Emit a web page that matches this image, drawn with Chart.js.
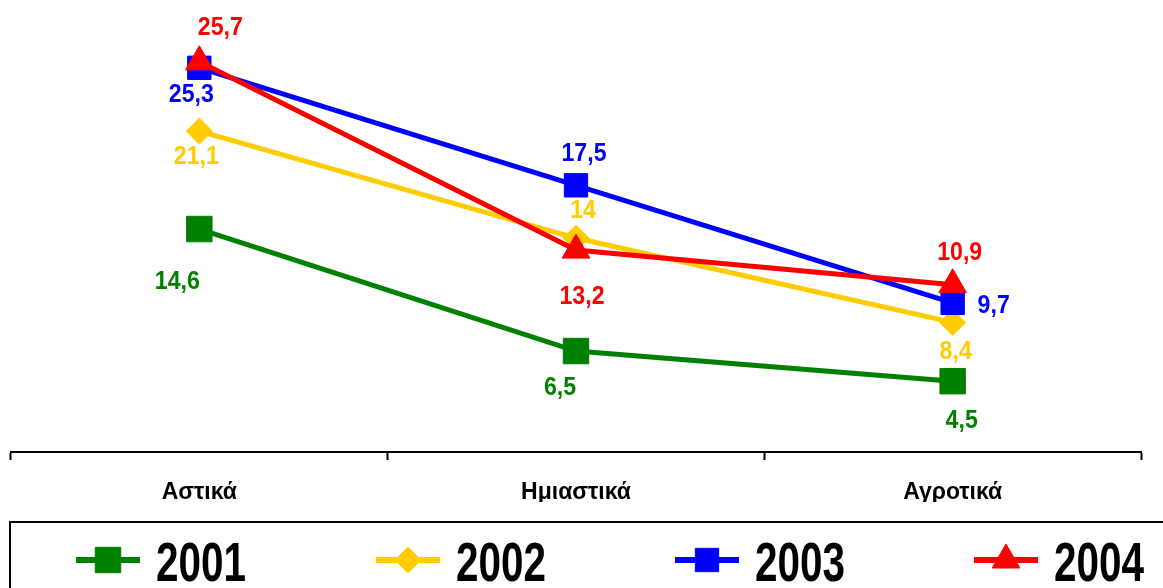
<!DOCTYPE html>
<html><head><meta charset="utf-8">
<script src="https://cdn.jsdelivr.net/npm/chart.js@4.4.1/dist/chart.umd.min.js"></script>
<style>html,body{margin:0;padding:0;background:#fff;overflow:hidden}#wrap{width:1163px;height:588px;position:relative}</style>
</head><body><div id="wrap"><canvas id="c" width="1163" height="588"></canvas></div>
<script>
const categories = ['Αστικά', 'Ημιαστικά', 'Αγροτικά'];
const seriesNames = ['2001', '2002', '2003', '2004'];
const values2001 = [14.6, 6.5, 4.5];
const values2002 = [21.1, 14, 8.4];
const values2003 = [25.3, 17.5, 9.7];
const values2004 = [25.7, 13.2, 10.9];

const seriesValues = [values2001, values2002, values2003, values2004];
const seriesColors = ['#008000', '#FFCC00', '#0000FF', '#FF0000'];
const seriesStyles = ['rect', 'rectRot', 'rect', 'triangle'];
const seriesRadius = [18, 13, 16.5, 16];
// label offsets (dx, dy) from each point, per series
const labelOffsets = [
  [[-22, 53], [-16, 37], [9, 40]],
  [[-3, 26], [7, -27], [3, 29]],
  [[-8, 27], [8, -31], [41, 3]],
  [[21, -34], [6, 47], [7, -32]]
];
const legendLineStarts = [76, 376, 675, 974];

const ctx0 = document.getElementById('c').getContext('2d');
function measure(font, text) { ctx0.font = font; return ctx0.measureText(text).width; }
const NARROW = "'Liberation Sans Narrow', 'Liberation Sans', Arial, sans-serif";
const REG = "'Liberation Sans', Arial, sans-serif";
const hasNarrow = measure("bold 26px 'Liberation Sans Narrow', monospace", 'Αστικά') < 0.9 * measure("bold 26px 'Liberation Sans', monospace", 'Αστικά');
const tickFont = hasNarrow ? { family: NARROW, size: 26, weight: 'bold' } : { family: REG, size: 23, weight: 'bold' };

function fmt(v) { return String(v).replace('.', ','); }

function drawSqueezed(ctx, text, x, y, font, color, targetW, refText, align, baseline) {
  ctx.save();
  ctx.font = font;
  const w = ctx.measureText(refText).width;
  const sx = targetW / w;
  ctx.translate(x, y);
  ctx.scale(sx, 1);
  ctx.fillStyle = color;
  ctx.textAlign = align;
  ctx.textBaseline = baseline;
  ctx.fillText(text, 0, 0);
  ctx.restore();
}

function drawMarker(ctx, style, r, x, y, color) {
  ctx.save();
  ctx.fillStyle = color;
  ctx.strokeStyle = color;
  ctx.lineWidth = 1;
  ctx.beginPath();
  if (style === 'rect') {
    const s = Math.SQRT1_2 * r;
    ctx.rect(x - s, y - s, 2 * s, 2 * s);
  } else if (style === 'rectRot') {
    ctx.moveTo(x - r, y); ctx.lineTo(x, y - r); ctx.lineTo(x + r, y); ctx.lineTo(x, y + r); ctx.closePath();
  } else if (style === 'triangle') {
    ctx.moveTo(x, y - r);
    ctx.lineTo(x + Math.sin(2 * Math.PI / 3) * r, y + r / 2);
    ctx.lineTo(x - Math.sin(2 * Math.PI / 3) * r, y + r / 2);
    ctx.closePath();
  }
  ctx.fill();
  ctx.stroke();
  ctx.restore();
}

const valueLabels = {
  id: 'valueLabels',
  afterDatasetsDraw(chart) {
    const ctx = chart.ctx;
    chart.data.datasets.forEach((ds, i) => {
      const meta = chart.getDatasetMeta(i);
      meta.data.forEach((pt, j) => {
        const off = labelOffsets[i][j];
        drawSqueezed(ctx, fmt(ds.data[j]), pt.x + off[0], pt.y + off[1],
          "bold 26px " + REG, seriesColors[i], 45, '25,3', 'center', 'middle');
      });
    });
  }
};

const boxLegend = {
  id: 'boxLegend',
  afterDraw(chart) {
    const ctx = chart.ctx;
    ctx.save();
    ctx.strokeStyle = '#000';
    ctx.lineWidth = 2;
    ctx.strokeRect(10, 522, 1400, 200);
    ctx.restore();
    chart.data.datasets.forEach((ds, i) => {
      const x0 = legendLineStarts[i];
      const y = 560;
      ctx.save();
      ctx.strokeStyle = seriesColors[i];
      ctx.lineWidth = 6;
      ctx.beginPath(); ctx.moveTo(x0, y); ctx.lineTo(x0 + 64, y); ctx.stroke();
      ctx.restore();
      drawMarker(ctx, seriesStyles[i], seriesRadius[i], x0 + 32, y, seriesColors[i]);
      drawSqueezed(ctx, ds.label, x0 + 80, 581, "bold 56px " + REG, '#000', 90, '2001', 'left', 'alphabetic');
    });
  }
};

const datasets = seriesNames.map((name, i) => ({
  label: name,
  data: seriesValues[i],
  borderColor: seriesColors[i],
  backgroundColor: seriesColors[i],
  pointBackgroundColor: seriesColors[i],
  pointBorderColor: seriesColors[i],
  pointBorderWidth: 1,
  pointStyle: seriesStyles[i],
  pointRadius: seriesRadius[i],
  pointHoverRadius: seriesRadius[i],
  borderWidth: 5,
  tension: 0,
  fill: false,
  clip: false,
  order: seriesNames.length - i
}));

new Chart(ctx0, {
  type: 'line',
  data: { labels: categories, datasets },
  options: {
    responsive: false,
    animation: false,
    devicePixelRatio: 1,
    layout: { autoPadding: false, padding: { left: 11, right: 22, top: 0, bottom: 86 } },
    plugins: { legend: { display: false }, tooltip: { enabled: false } },
    scales: {
      x: {
        type: 'category',
        offset: true,
        grid: { display: true, drawOnChartArea: false, drawTicks: true, tickLength: 8, tickWidth: 2, tickColor: '#000', offset: true },
        border: { display: true, color: '#000', width: 2 },
        ticks: { font: tickFont, color: '#000', padding: 19, maxRotation: 0, autoSkip: false },
        afterFit: s => { s.height = 50; }
      },
      y: { display: false, min: -0.2, max: 29.8 }
    }
  },
  plugins: [valueLabels, boxLegend]
});
</script></body></html>
